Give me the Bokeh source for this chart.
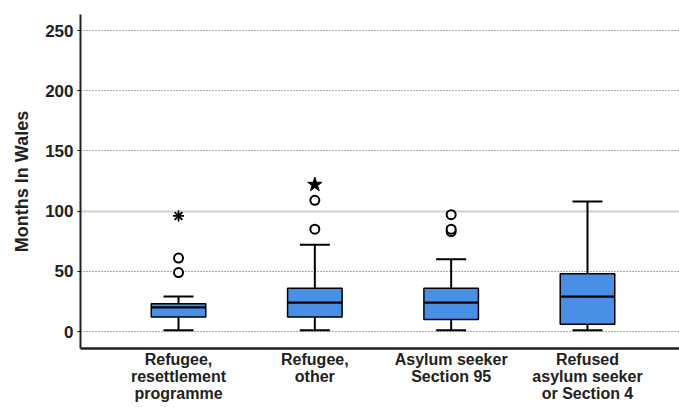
from bokeh.plotting import figure
from bokeh.models import FixedTicker, Range1d, Grid, ColumnDataSource
from bokeh.embed import file_html
from bokeh.resources import INLINE

# ---- data ----
categories = ["Refugee,\nresettlement\nprogramme", "Refugee,\nother",
              "Asylum seeker\nSection 95", "Refused\nasylum seeker\nor Section 4"]
lower_whisker = [1, 1, 1, 1]
q1 = [12, 12, 10, 6]
median = [20, 24, 24, 29]
q3 = [23, 36, 36, 48]
upper_whisker = [29, 72, 60, 108]
outlier_group = [1, 1, 2, 2, 3, 3, 3]
outlier_value = [49, 61, 85, 109, 83, 85, 97]
extreme_group_ast = [1]
extreme_value_ast = [96]
extreme_group_star = [2]
extreme_value_star = [122]
y_ticks = [0, 50, 100, 150, 200, 250]

xs = list(range(1, len(categories) + 1))
FONT = "Liberation Sans"
BOX_W = 0.40
CAP_W = 0.22

p = figure(width=679, height=404, output_backend="svg", toolbar_location=None,
           x_range=Range1d(0.281, 4.675), y_range=Range1d(-14.1, 263.3),
           min_border_left=80, min_border_right=0, min_border_top=14, min_border_bottom=56)
p.outline_line_color = None
p.background_fill_color = "white"

# grids
p.xgrid.visible = False
p.ygrid.visible = False
g1 = Grid(dimension=1, ticker=FixedTicker(ticks=[0, 50, 150, 200, 250]),
          grid_line_color="#555555", grid_line_dash="1 2", grid_line_width=1.2)
g2 = Grid(dimension=1, ticker=FixedTicker(ticks=[100]),
          grid_line_color="#d0d0d0", grid_line_width=2)
p.add_layout(g1)
p.add_layout(g2)

src = ColumnDataSource(dict(x=xs, lo=lower_whisker, q1=q1, med=median, q3=q3, hi=upper_whisker,
                            xl=[x - BOX_W / 2 for x in xs], xr=[x + BOX_W / 2 for x in xs],
                            cl=[x - CAP_W / 2 for x in xs], cr=[x + CAP_W / 2 for x in xs]))

# stems
p.segment(x0="x", y0="lo", x1="x", y1="q1", source=src, line_color="black", line_width=2)
p.segment(x0="x", y0="q3", x1="x", y1="hi", source=src, line_color="black", line_width=2)
# caps
p.segment(x0="cl", y0="lo", x1="cr", y1="lo", source=src, line_color="black", line_width=2)
p.segment(x0="cl", y0="hi", x1="cr", y1="hi", source=src, line_color="black", line_width=2)
# boxes
p.quad(left="xl", right="xr", bottom="q1", top="q3", source=src,
       fill_color="#4a8fe6", line_color="black", line_width=1.5)
# medians
p.segment(x0="xl", y0="med", x1="xr", y1="med", source=src, line_color="black", line_width=2.2)

# outliers
p.scatter(outlier_group, outlier_value, marker="circle", size=9, fill_color="white",
          line_color="black", line_width=2)
p.scatter(extreme_group_ast, extreme_value_ast, marker="asterisk", size=11,
          line_color="black", line_width=1.8)
p.scatter(extreme_group_star, extreme_value_star, marker="star", size=15,
          fill_color="black", line_color="black")

# y axis
p.yaxis.ticker = FixedTicker(ticks=y_ticks)
p.yaxis.axis_label = "Months In Wales"
p.yaxis.axis_label_text_font = FONT
p.yaxis.axis_label_text_font_style = "bold"
p.yaxis.axis_label_text_font_size = "18px"
p.yaxis.axis_label_text_color = "#222222"
p.yaxis.axis_label_standoff = 10
p.yaxis.major_label_text_font = FONT
p.yaxis.major_label_text_font_style = "bold"
p.yaxis.major_label_text_font_size = "17px"
p.yaxis.major_label_text_color = "#222222"
p.yaxis.axis_line_width = 2
p.yaxis.axis_line_color = "#222222"
p.yaxis.major_tick_out = 3
p.yaxis.major_tick_in = 0
p.yaxis.minor_tick_line_color = None
p.yaxis.major_label_standoff = 4

# x axis
p.xaxis.ticker = FixedTicker(ticks=xs)
p.xaxis.major_label_overrides = {x: c for x, c in zip(xs, categories)}
p.xaxis.major_label_text_font = FONT
p.xaxis.major_label_text_font_style = "bold"
p.xaxis.major_label_text_font_size = "16px"
p.xaxis.major_label_text_color = "#222222"
p.xaxis.major_label_text_line_height = 1.0
p.xaxis.axis_line_width = 2.5
p.xaxis.axis_line_color = "#222222"
p.xaxis.major_tick_line_color = None
p.xaxis.major_tick_out = 0
p.xaxis.minor_tick_line_color = None
p.xaxis.major_label_standoff = 2

open("out.html", "w").write(file_html(p, INLINE))
